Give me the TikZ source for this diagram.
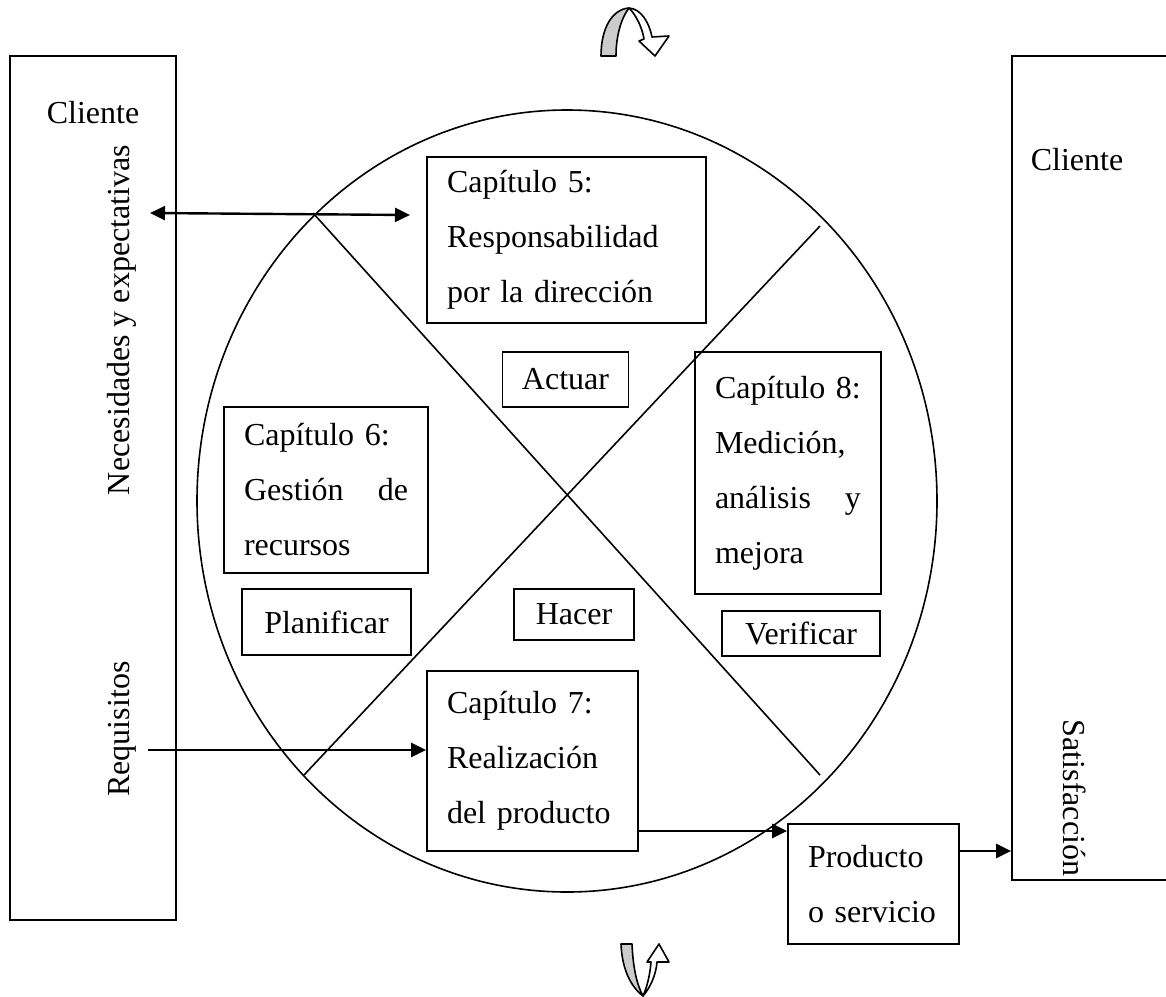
\documentclass[tikz,border=0pt]{standalone}
\usepackage{fontspec}
\setmainfont{Liberation Serif}
\usetikzlibrary{arrows.meta}
\definecolor{bandgray}{RGB}{204,204,204}
\begin{document}
\begin{tikzpicture}[x=0.5pt,y=-0.5pt,
  every node/.style={font=\fontsize{16}{27.5}\selectfont},
  frame/.style={draw,line width=0.9pt,rectangle,inner sep=0pt},
  textbox/.style={draw,line width=0.9pt,rectangle,align=left,inner xsep=10pt,inner ysep=0pt,text width=#1},
  tag/.style={draw,line width=0.9pt,rectangle,inner sep=0pt,align=center},
  label/.style={inner sep=0pt},
  conn/.style={line width=1.2pt,-{Triangle[length=7.5pt,width=7pt]}},
  dconn/.style={line width=1.2pt,{Triangle[length=7.5pt,width=7pt]}-{Triangle[length=7.5pt,width=7pt]}},
  thin/.style={line width=0.8pt},
  turn/.style={draw,line width=0.8pt,line join=round}]
\clip (0,0) rectangle (1166,996);

% side panels (the right one runs past the page edge)
\node[frame,minimum width=83pt,minimum height=432pt] (left) at (93,488) {};
\node[frame,minimum width=90pt,minimum height=412pt] (right) at (1102,468) {};
\node[label] (cl1) at (93,113) {Cliente};
\node[label,rotate=90] (nec) at (122,320) {Necesidades y expectativas};
\node[label,rotate=90] (req) at (122,729) {Requisitos};
\node[label] (cl2) at (1077,160) {Cliente};
\node[label,rotate=-90] (sat) at (1075,798) {Satisfacción};

% cycle wheel
\draw[thin] (567,501) ellipse [x radius=370, y radius=391];
\coordinate (d1a) at (313,213);
\coordinate (d1b) at (820,775);
\coordinate (d2a) at (820,226);
\coordinate (d2b) at (304,775);
\draw[thin] (d1a) -- (d1b);
\draw[thin] (d2a) -- (d2b);

% chapter boxes
\node[textbox=119.5pt,minimum height=83pt] (c5) at (566.5,240) {Capítulo 5:\\Responsabilidad\\por la dirección};
\node[textbox=82pt,minimum height=83pt] (c6) at (326,490) {Capítulo 6:\\Gestión\hfill de\\recursos};
\node[textbox=73pt,minimum height=121pt] (c8) at (788,473) {Capítulo 8:\\Medición,\\análisis\hfill y\\mejora};
\node[textbox=85.5pt,minimum height=90pt] (c7) at (532.5,761) {Capítulo 7:\\Realización\\del producto};
\node[textbox=65.5pt,minimum height=60pt] (prod) at (873.5,884) {Producto\\o servicio};

% PDCA tags
\node[tag,minimum width=63pt,minimum height=27.5pt] (act) at (565.5,379.5) {Actuar};
\node[tag,minimum width=84.5pt,minimum height=33pt] (plan) at (326.5,622) {Planificar};
\node[tag,minimum width=60pt,minimum height=25.5pt] (hac) at (574,614.5) {Hacer};
\node[tag,minimum width=79pt,minimum height=22.5pt] (ver) at (801,633.5) {Verificar};

% connectors
\coordinate (ne1) at (150,213);
\coordinate (ne2) at (410,215);
\draw[dconn] (ne1) -- (ne2);
\coordinate (rq) at (148,750);
\draw[conn] (rq) -- (rq -| c7.west);
\coordinate (o7) at (638,831);
\draw[conn] (o7) -- (o7 -| prod.west);
\coordinate (op) at (959,851);
\draw[conn] (op) -- (op -| right.west);

% turning arrows above and below the wheel
\draw[turn,fill=bandgray] (601,56) .. controls (601,27) and (613,9) .. (629,8)
  .. controls (622,17) and (616,34) .. (616,56) -- cycle;
\draw[turn,fill=white] (629,8) .. controls (641,9) and (649,22) .. (652,37)
  -- (669,36) -- (655,56) -- (639,41) -- (644,39)
  .. controls (642,27) and (636,15) .. (629,8) -- cycle;

\draw[turn,fill=bandgray] (621,944) -- (632,944) .. controls (633,968) and (637,985) .. (643,996)
  .. controls (630,986) and (622,968) .. (621,944) -- cycle;
\draw[turn,fill=white] (643,996) .. controls (650,988) and (656,975) .. (657,962)
  -- (669,962) -- (659,944) -- (647,962) -- (651,962)
  .. controls (650,975) and (647,987) .. (643,996) -- cycle;
\end{tikzpicture}
\end{document}
